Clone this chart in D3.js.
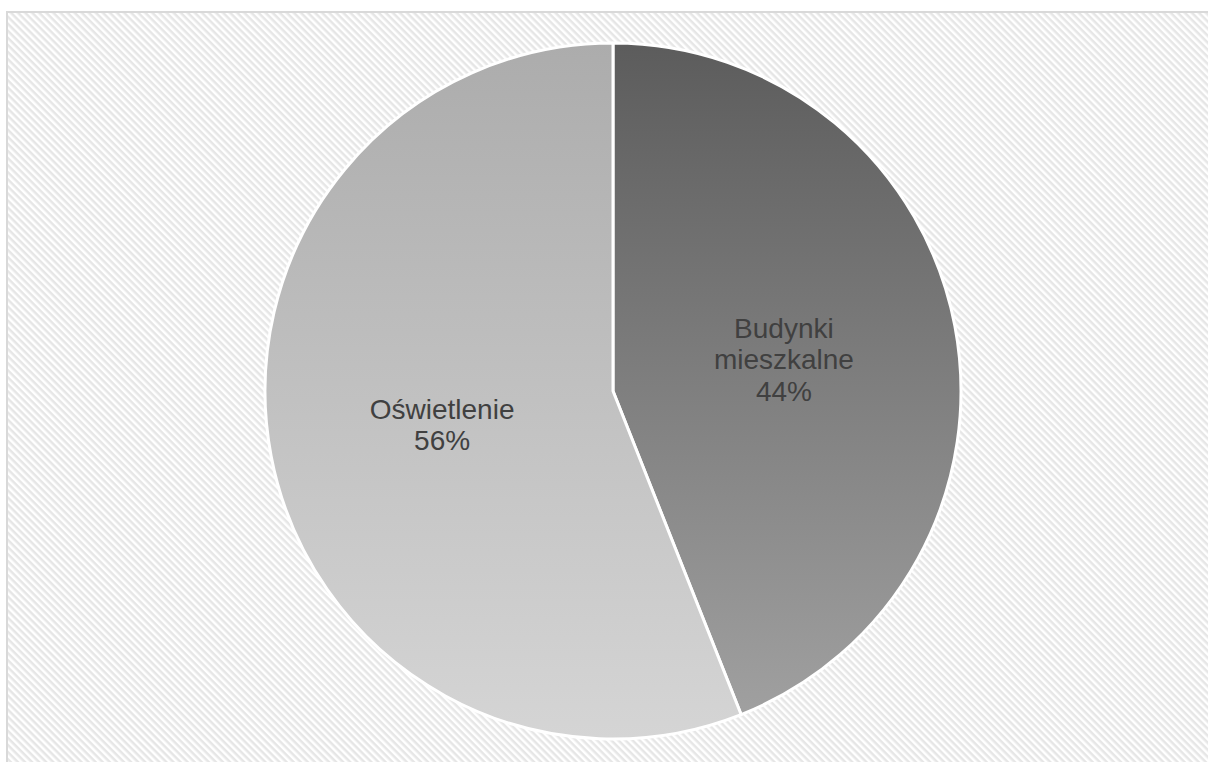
<!DOCTYPE html>
<html>
<head>
<meta charset="utf-8">
<script src="https://cdn.jsdelivr.net/npm/d3@7"></script>
<style>
  html, body { margin: 0; padding: 0; background: #ffffff; }
  svg { display: block; }
</style>
</head>
<body>
<svg id="chart" width="1208" height="762"></svg>
<script>
// Share of each category
const categories = ["Budynki mieszkalne", "Oświetlenie"];
const labelLines = [["Budynki", "mieszkalne"], ["Oświetlenie"]];
const values = [44, 56];
// Vertical gradient stops per slice (top, bottom)
const gradTop = ["#5c5c5c", "#acacac"];
const gradBottom = ["#a0a0a0", "#d5d5d5"];

const W = 1208, H = 762;
const cx = 613, cy = 391, R = 348;

const svg = d3.select("#chart");
const defs = svg.append("defs");

// Diagonal hatch for the chart area background
const pat = defs.append("pattern")
  .attr("id", "hatch")
  .attr("patternUnits", "userSpaceOnUse")
  .attr("width", 5).attr("height", 5)
  .attr("patternTransform", "rotate(45)");
pat.append("rect").attr("width", 5).attr("height", 5).attr("fill", "#ffffff");
pat.append("rect").attr("x", 0).attr("y", 0).attr("width", 5).attr("height", 2.5).attr("fill", "#e6e6e6");

categories.forEach((c, i) => {
  const g = defs.append("linearGradient")
    .attr("id", "grad" + i)
    .attr("x1", 0).attr("y1", 0).attr("x2", 0).attr("y2", 1);
  g.append("stop").attr("offset", "0%").attr("stop-color", gradTop[i]);
  g.append("stop").attr("offset", "100%").attr("stop-color", gradBottom[i]);
});

// Chart area with border
svg.append("rect")
  .attr("x", 7).attr("y", 12)
  .attr("width", W + 10).attr("height", H + 10)
  .attr("fill", "url(#hatch)")
  .attr("stroke", "#d9d9d9")
  .attr("stroke-width", 2);

const data = categories.map((c, i) => ({ name: c, value: values[i], idx: i }));

const pie = d3.pie()
  .value(d => d.value)
  .sort(null)
  .startAngle(0)
  .endAngle(2 * Math.PI);

const arc = d3.arc().innerRadius(0).outerRadius(R);
const labelArc = d3.arc().innerRadius(0).outerRadius(R);

const g = svg.append("g").attr("transform", `translate(${cx},${cy})`);

const arcs = pie(data);

g.selectAll("path.slice")
  .data(arcs)
  .join("path")
  .attr("class", "slice")
  .attr("d", arc)
  .attr("fill", d => `url(#grad${d.data.idx})`)
  .attr("stroke", "#ffffff")
  .attr("stroke-width", 3)
  .attr("stroke-linejoin", "round");

const fontSize = 28;
const lineH = 31.5;

g.selectAll("text.lbl")
  .data(arcs)
  .join("text")
  .attr("class", "lbl")
  .attr("font-family", "'Liberation Sans', Arial, sans-serif")
  .attr("font-size", fontSize)
  .attr("fill", "#404040")
  .attr("text-anchor", "middle")
  .each(function(d) {
    const [x, y] = labelArc.centroid(d);
    const lines = labelLines[d.data.idx].concat([d.data.value + "%"]);
    const n = lines.length;
    const t = d3.select(this);
    lines.forEach((ln, k) => {
      t.append("tspan")
        .attr("x", x)
        .attr("y", y + 1 + (k - (n - 1) / 2) * lineH + fontSize * 0.36)
        .text(ln);
    });
  });
</script>
</body>
</html>
